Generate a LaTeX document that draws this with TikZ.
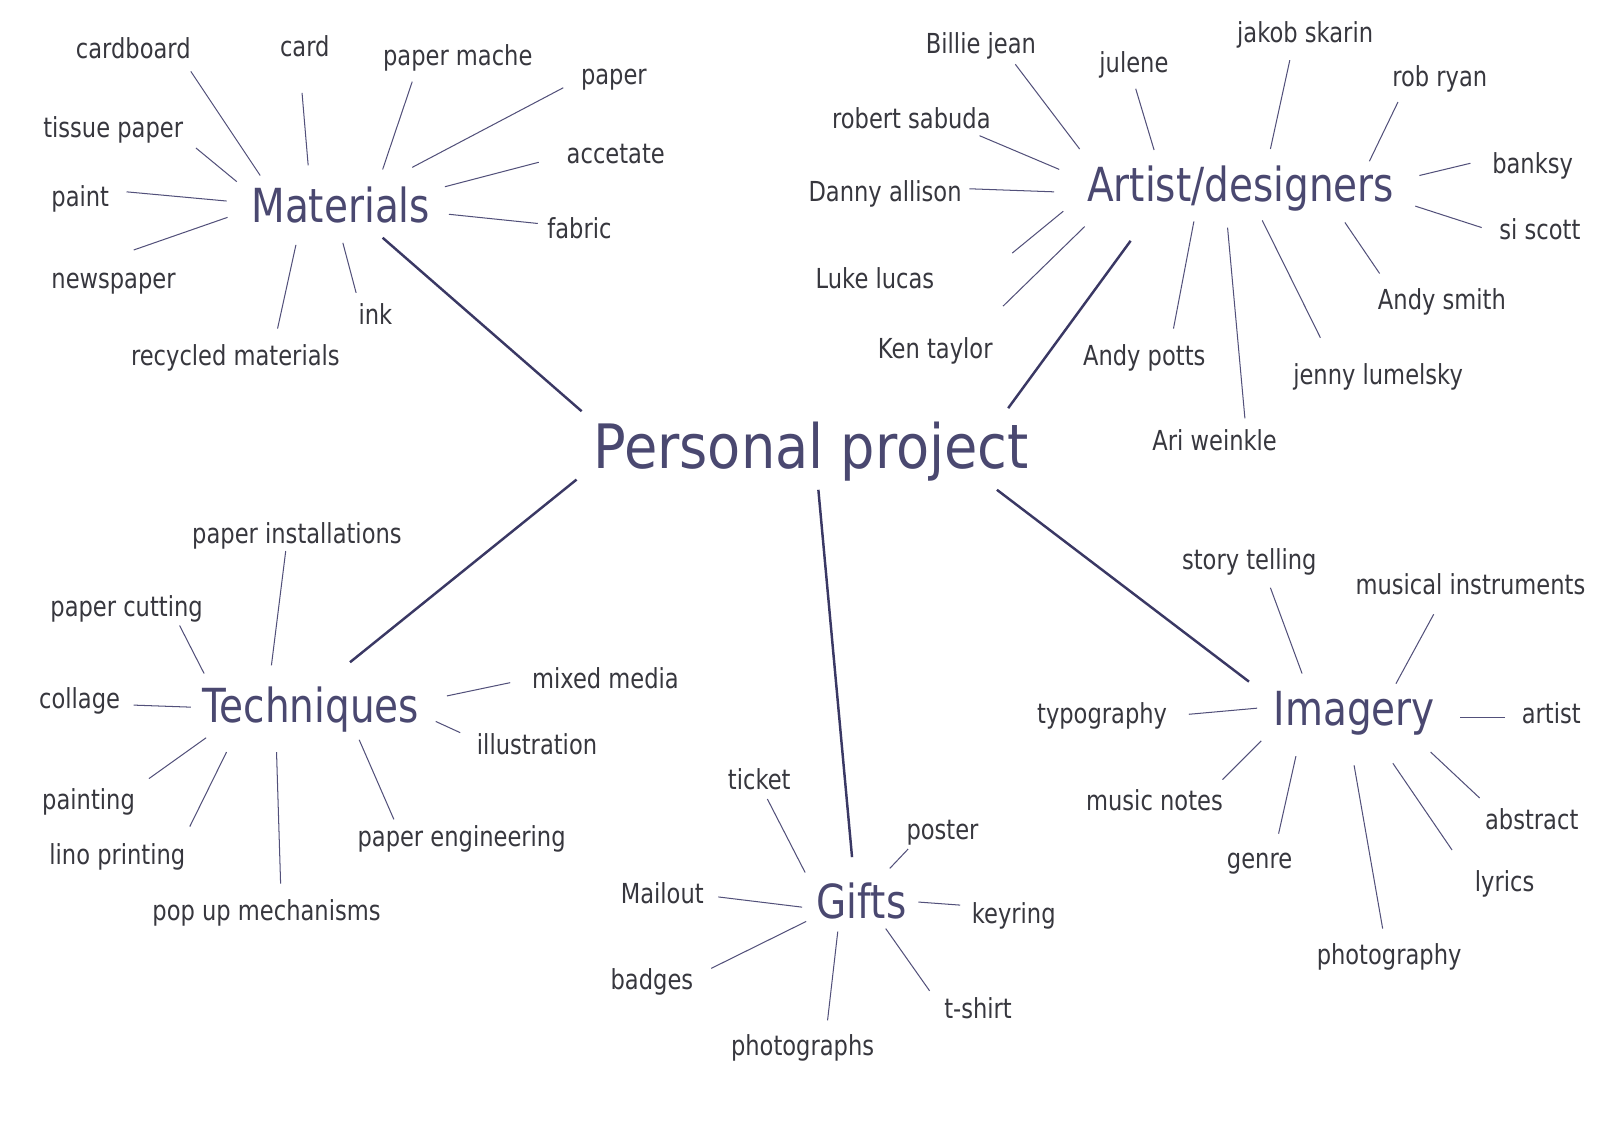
\documentclass[tikz,border=0pt]{standalone}
\usepackage{fontspec}
\setmainfont{DejaVu Sans}
\newfontfamily\leaffont{DejaVu Sans}[FakeStretch=0.82]
\newfontfamily\hubfont{DejaVu Sans}[FakeStretch=0.83]
\newfontfamily\ppfont{DejaVu Sans}[FakeStretch=0.885]
\definecolor{hubtext}{RGB}{74,72,112}
\definecolor{leaftext}{RGB}{55,55,62}
\definecolor{leafline}{RGB}{82,80,122}
\definecolor{mainline}{RGB}{58,56,100}
\tikzset{
  leaf/.style={anchor=base west, inner sep=0pt, text=leaftext, font=\leaffont\fontsize{13.5}{16}\selectfont},
  hub/.style={anchor=base west, inner sep=0pt, text=hubtext, font=\hubfont\fontsize{23}{27}\selectfont},
  ppstyle/.style={anchor=base west, inner sep=0pt, text=hubtext, font=\ppfont\fontsize{30}{36}\selectfont},
  leafedge/.style={draw=leafline, line width=0.5pt},
  mainedge/.style={draw=mainline, line width=1.2pt}
}
\begin{document}
\begin{tikzpicture}[x=0.5pt,y=-0.5pt]
\fill[white] (0,0) rectangle (1568,1108);
\useasboundingbox (0,0) rectangle (1568,1108);
% hubs
\node[ppstyle] (pp) at (581,459) {Personal project};
\node[hub] (mat) at (246,218) {Materials};
\node[hub] (art) at (1065,197) {Artist/designers};
\node[hub] (tech) at (198,708) {Techniques};
\node[hub] (img) at (1248,711) {Imagery};
\node[hub] (gift) at (800,900) {Gifts};
% main branches
\coordinate (mat-a) at (375,233); \coordinate (mat-b) at (570,403);
\coordinate (art-a) at (1108,236); \coordinate (art-b) at (988,400);
\coordinate (tech-a) at (565,470); \coordinate (tech-b) at (343,649);
\coordinate (img-a) at (977,480); \coordinate (img-b) at (1224,668);
\coordinate (gift-a) at (802,480); \coordinate (gift-b) at (835,840);
\foreach \h in {mat,art,tech,img,gift}{\draw[mainedge] (\h-a) -- (\h-b);}
% leaves: name/text/x/baseline/line from/line to
\foreach \n/\t/\x/\y/\ax/\ay/\bx/\by in {
cardboard/cardboard/74/57/187/70/255/172,
card/card/274/55/296/91/302/162,
papermache/paper mache/375/64/404/80/375/166,
paper/paper/569/83/552/86/404/164,
tissue/tissue paper/42/135/192/145/232/178,
accetate/accetate/555/160/528/159/436/183,
paint/paint/50/202/124/188/222/197,
fabric/fabric/536/234/527/219/440/210,
newspaper/newspaper/50/283/131/245/223/213,
ink/ink/351/318/336/238/349/287,
recycled/recycled materials/128/358/272/322/290/240,
billie/Billie jean/907/52/995/63/1058/146,
julene/julene/1077/71/1113/87/1131/147,
jakob/jakob skarin/1212/42/1264/59/1245/146,
rob/rob ryan/1364/85/1370/100/1342/158,
robert/robert sabuda/815/126/960/133/1038/166,
banksy/banksy/1462/170/1441/160/1391/172,
danny/Danny allison/792/197/950/185/1033/188,
si/si scott/1469/235/1452/223/1387/202,
luke/Luke lucas/799/283/992/248/1042/207,
smith/Andy smith/1350/303/1352/268/1318/218,
ken/Ken taylor/860/351/983/300/1063/222,
potts/Andy potts/1061/358/1150/322/1170/217,
jenny/jenny lumelsky/1267/377/1294/331/1237/216,
ari/Ari weinkle/1129/441/1220/410/1203/223,
installations/paper installations/188/533/280/540/266/652,
cutting/paper cutting/49/604/176/613/200/660,
mixed/mixed media/521/675/500/669/438/682,
collage/collage/38/694/131/691/187/693,
illustration/illustration/467/739/451/718/427/707,
painting/painting/41/793/146/763/202/723,
lino/lino printing/48/847/186/810/222/737,
popup/pop up mechanisms/149/902/275/866/271/737,
engineering/paper engineering/350/830/386/803/352/725,
story/story telling/1158/558/1245/576/1276/660,
musical/musical instruments/1328/583/1405/602/1368/670,
typography/typography/1016/709/1165/700/1232/694,
artist/artist/1491/709/1475/703/1431/703,
notes/music notes/1064/794/1198/764/1236/726,
abstract/abstract/1455/813/1450/782/1402/737,
genre/genre/1202/851/1253/817/1270/741,
lyrics/lyrics/1445/874/1423/833/1365/748,
photography/photography/1290/945/1355/910/1327/750,
ticket/ticket/713/774/752/783/789/855,
poster/poster/888/823/890/832/872/851,
mailout/Mailout/608/885/704/879/786/889,
keyring/keyring/952/905/941/887/900/884,
badges/badges/598/970/697/949/790/903,
tshirt/t-shirt/925/998/911/971/868/910,
photographs/photographs/716/1034/811/1000/821/913}{
  \node[leaf] (\n) at (\x,\y) {\t};
  \coordinate (\n-a) at (\ax,\ay);
  \coordinate (\n-b) at (\bx,\by);
  \draw[leafedge] (\n-a) -- (\n-b);
}
\end{tikzpicture}
\end{document}
